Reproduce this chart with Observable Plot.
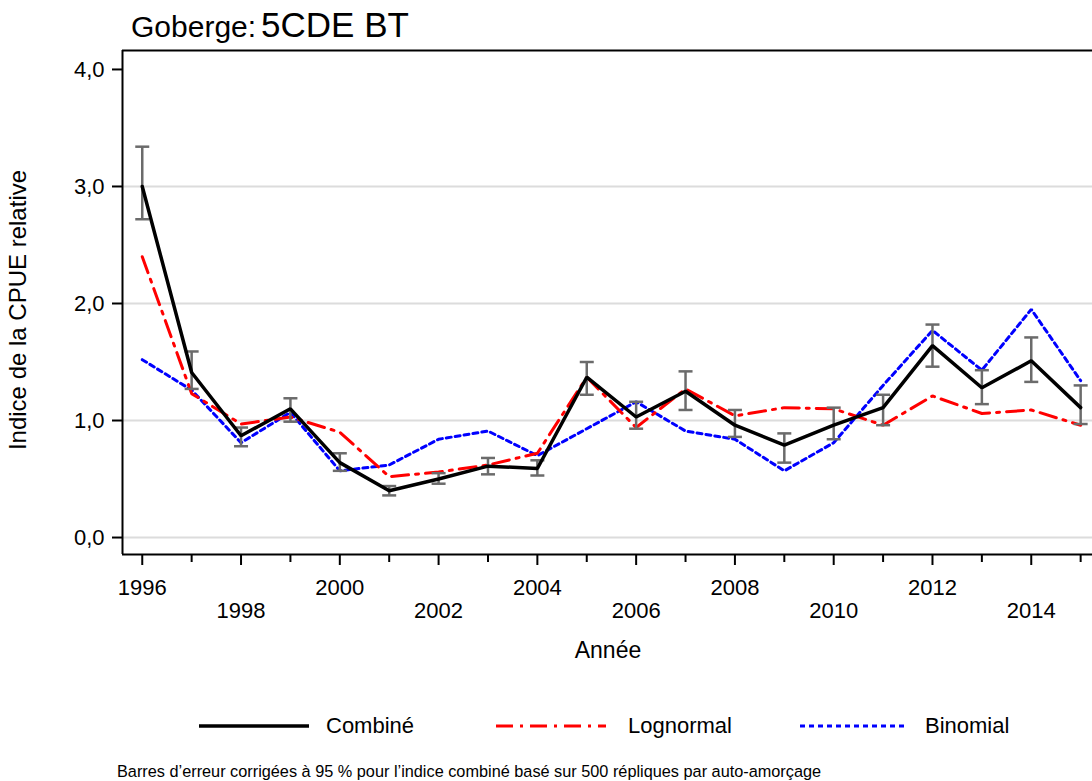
<!DOCTYPE html>
<html>
<head>
<meta charset="utf-8">
<script src="https://cdn.jsdelivr.net/npm/d3@7"></script>
<script src="https://cdn.jsdelivr.net/npm/@observablehq/plot@0.6"></script>
<style>
  html, body { margin: 0; padding: 0; background: #fff; }
  #wrap { position: relative; width: 1092px; height: 781px; overflow: hidden; font-family: "Liberation Sans", Arial, sans-serif; color: #000; }
  #title { position: absolute; left: 131px; top: 7px; white-space: nowrap; line-height: 1; }
  #title .a { font-size: 30px; }
  #title .b { font-size: 35px; margin-left: 5px; }
  #chart { position: absolute; left: 0; top: 45px; }
  #ylabel { position: absolute; left: 18px; top: 310px; transform: translate(-50%, -50%) rotate(-90deg); white-space: nowrap; font-size: 24px; }
  #xlabel { position: absolute; left: 608px; top: 650px; transform: translate(-50%, -50%); font-size: 23px; }
  .leg { position: absolute; top: 714px; font-size: 22px; white-space: nowrap; line-height: 24px; }
  .legline { position: absolute; top: 716px; }
  #foot { position: absolute; left: 117px; top: 762px; font-size: 16.3px; white-space: nowrap; }
</style>
</head>
<body>
<div id="wrap">
  <div id="title"><span class="a">Goberge:</span><span class="b">5CDE BT</span></div>
  <div id="chart"></div>
  <div id="ylabel">Indice de la CPUE relative</div>
  <div id="xlabel">Année</div>
  <svg class="legline" style="left:199px" width="110" height="20"><line x1="0" x2="110" y1="10" y2="10" stroke="#000" stroke-width="3.5"/></svg>
  <div class="leg" style="left:326px">Combiné</div>
  <svg class="legline" style="left:496px" width="110" height="20"><line x1="0" x2="110" y1="10" y2="10" stroke="#ff0000" stroke-width="3" stroke-dasharray="17,7,3,7"/></svg>
  <div class="leg" style="left:628px">Lognormal</div>
  <svg class="legline" style="left:800px" width="106" height="20"><line x1="0" x2="106" y1="10" y2="10" stroke="#0000ff" stroke-width="3" stroke-dasharray="5,4"/></svg>
  <div class="leg" style="left:925px">Binomial</div>
  <div id="foot">Barres d’erreur corrigées à 95 % pour l’indice combiné basé sur 500 répliques par auto-amorçage</div>
</div>
<script>
const years     = [1996,1997,1998,1999,2000,2001,2002,2003,2004,2005,2006,2007,2008,2009,2010,2011,2012,2013,2014,2015];
const combined  = [3.00,1.41,0.87,1.10,0.64,0.40,0.50,0.61,0.59,1.37,1.03,1.25,0.96,0.79,0.96,1.11,1.64,1.28,1.51,1.11];
const lower     = [2.72,1.27,0.78,0.99,0.57,0.36,0.46,0.54,0.53,1.22,0.93,1.09,0.86,0.64,0.84,0.96,1.46,1.14,1.33,0.97];
const upper     = [3.34,1.59,0.94,1.19,0.72,0.44,0.55,0.68,0.66,1.50,1.16,1.42,1.09,0.89,1.11,1.22,1.82,1.43,1.71,1.30];
const lognormal = [2.40,1.23,0.97,1.03,0.90,0.52,0.56,0.62,0.72,1.37,0.94,1.27,1.04,1.11,1.10,0.96,1.21,1.06,1.09,0.96];
const binomial  = [1.52,1.26,0.81,1.07,0.57,0.62,0.84,0.91,0.70,0.93,1.16,0.91,0.84,0.57,0.81,1.30,1.77,1.43,1.95,1.34];

const yTicks = [0,1,2,3,4];
const gridTicks = [0,1,2,3];
const xLabelsRow1 = [1996,2000,2004,2008,2012];
const xLabelsRow2 = [1998,2002,2006,2010,2014];
const xMajor = years.filter(y => y % 2 === 0);
const xMinor = years.filter(y => y % 2 === 1);

const xDomain = [1995.6, 2015.24];
const yDomain = [-0.145, 4.162];

const rows = years.map((year, i) => ({year, combined: combined[i], lower: lower[i], upper: upper[i], lognormal: lognormal[i], binomial: binomial[i]}));

const cap = { draw(ctx) { ctx.moveTo(-7, 0); ctx.lineTo(7, 0); } };
const fmt = d => d.toFixed(1).replace(".", ",");

const chart = Plot.plot({
  width: 1092,
  height: 625,
  marginTop: 5,
  marginBottom: 116,
  marginLeft: 122,
  marginRight: 0,
  x: {domain: xDomain},
  y: {domain: yDomain},
  style: {fontFamily: '"Liberation Sans", Arial, sans-serif', color: "#000", background: "transparent", overflow: "visible"},
  marks: [
    Plot.gridY(gridTicks, {stroke: "#dcdcdc", strokeOpacity: 1, strokeWidth: 2}),
    Plot.axisY(yTicks, {tickSize: 10, tickPadding: 8, tickFormat: fmt, fontSize: 22, strokeWidth: 2, label: null}),
    Plot.axisX(xMajor, {tickSize: 11, tickFormat: () => "", strokeWidth: 2, label: null}),
    Plot.axisX(xMinor, {tickSize: 8, tickFormat: () => "", strokeWidth: 2, label: null}),
    Plot.axisX(xLabelsRow1, {tickSize: 0, tickPadding: 25, tickFormat: d => String(d), fontSize: 22, label: null}),
    Plot.axisX(xLabelsRow2, {tickSize: 0, tickPadding: 48, tickFormat: d => String(d), fontSize: 22, label: null}),
    Plot.ruleX([xDomain[0]], {stroke: "#000", strokeWidth: 2}),
    Plot.ruleY([yDomain[0]], {stroke: "#000", strokeWidth: 2}),
    Plot.ruleY([yDomain[1]], {stroke: "#000", strokeWidth: 2}),
    Plot.line(rows, {x: "year", y: "binomial", stroke: "#0000ff", strokeWidth: 3, strokeDasharray: "5,4", strokeLinejoin: "miter"}),
    Plot.line(rows, {x: "year", y: "lognormal", stroke: "#ff0000", strokeWidth: 3, strokeDasharray: "17,7,3,7", strokeLinejoin: "miter"}),
    Plot.ruleX(rows, {x: "year", y1: "lower", y2: "upper", stroke: "#6b6b6b", strokeWidth: 2.5}),
    Plot.dot(rows, {x: "year", y: "lower", symbol: cap, stroke: "#6b6b6b", strokeWidth: 2.5, r: 7}),
    Plot.dot(rows, {x: "year", y: "upper", symbol: cap, stroke: "#6b6b6b", strokeWidth: 2.5, r: 7}),
    Plot.line(rows, {x: "year", y: "combined", stroke: "#000", strokeWidth: 3.5, strokeLinejoin: "miter"})
  ]
});
document.getElementById("chart").appendChild(chart);
</script>
</body>
</html>
